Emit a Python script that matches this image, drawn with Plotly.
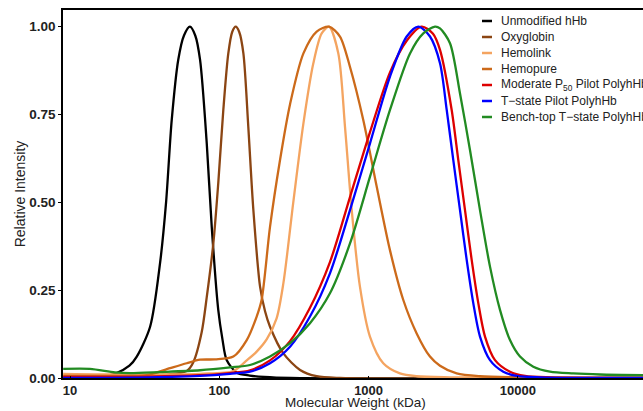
import plotly.graph_objects as go

# ---------------- data ----------------
series_names = [
    "Unmodified hHb",
    "Oxyglobin",
    "Hemolink",
    "Hemopure",
    "Moderate P<sub>50</sub> Pilot PolyhHb",
    "T\u2212state Pilot PolyhHb",
    "Bench-top T\u2212state PolyhHb",
]
series_colors = ["#000000", "#8B4513", "#F4A460", "#CC6A1A", "#DD0000", "#0000FF", "#228B22"]

unmod_mw = [9, 15, 20, 25, 28, 34.4, 40.1, 44, 48, 53.1, 58, 63.6, 69, 74.3, 82.4, 89, 98.4, 105, 112, 131, 160, 200, 300, 70000]
unmod_i = [0.002, 0.002, 0.012, 0.035, 0.061, 0.146, 0.327, 0.5, 0.734, 0.906, 0.975, 1.0, 0.975, 0.906, 0.668, 0.43, 0.194, 0.11, 0.051, 0.015, 0.007, 0.003, 0.0, 0.0]

oxy_mw = [9, 25.2, 40.1, 60.5, 67, 76.2, 82.4, 91.2, 98.4, 106.4, 114.9, 122, 128.8, 136, 145, 156.4, 169, 187.5, 202.5, 218.6, 268.7, 347.5, 449, 643, 70000]
oxy_i = [0.003, 0.004, 0.008, 0.02, 0.045, 0.13, 0.23, 0.383, 0.554, 0.763, 0.924, 0.985, 1.0, 0.985, 0.924, 0.715, 0.48, 0.26, 0.19, 0.146, 0.07, 0.023, 0.005, 0.0, 0.0]

hemolink_mw = [9, 25.2, 74.3, 124.2, 152.7, 178, 207.6, 242, 268.7, 313, 366, 426.5, 485, 543, 627, 695, 771, 875, 1021, 1254, 1622, 2099, 3508, 70000]
hemolink_i = [0.012, 0.01, 0.012, 0.02, 0.05, 0.075, 0.11, 0.17, 0.27, 0.5, 0.725, 0.896, 0.981, 1.0, 0.924, 0.715, 0.478, 0.26, 0.118, 0.042, 0.013, 0.005, 0.002, 0.0]

hemopure_mw = [9, 25.2, 32.7, 46.8, 60.5, 74.3, 93.5, 124.2, 152.7, 178, 192, 218.6, 255, 298, 366, 449, 543, 643, 750, 922, 1133, 1390, 1708, 2099, 2577, 3008, 3890, 5572, 10330, 70000]
hemopure_i = [0.006, 0.006, 0.008, 0.028, 0.042, 0.052, 0.053, 0.061, 0.108, 0.175, 0.222, 0.43, 0.62, 0.78, 0.924, 0.986, 1.0, 0.972, 0.886, 0.734, 0.545, 0.364, 0.222, 0.127, 0.061, 0.035, 0.013, 0.005, 0.002, 0.0]

modp50_mw = [9, 34.4, 74.3, 118, 160.6, 218.6, 297.6, 405, 551, 750.6, 1022, 1391, 1800, 2268, 2700, 3008, 3602, 3989, 4423, 4903, 5430, 6021, 7026, 8853, 11160, 16406, 70000]
modp50_i = [0.003, 0.004, 0.008, 0.014, 0.022, 0.05, 0.105, 0.2, 0.33, 0.515, 0.70, 0.87, 0.96, 1.0, 0.98, 0.934, 0.763, 0.62, 0.478, 0.336, 0.213, 0.118, 0.051, 0.018, 0.006, 0.002, 0.0]

tstate_mw = [9, 34.4, 74.3, 118, 160.6, 218.6, 297.6, 405, 551, 750.6, 1022, 1391, 1800, 2152, 2578, 3008, 3336, 3693, 4095, 4540, 5026, 5574, 6504, 7985, 9817, 14060, 70000]
tstate_i = [0.0, 0.002, 0.006, 0.012, 0.018, 0.042, 0.089, 0.175, 0.298, 0.478, 0.668, 0.858, 0.972, 1.0, 0.972, 0.896, 0.763, 0.62, 0.478, 0.336, 0.213, 0.118, 0.051, 0.018, 0.006, 0.002, 0.0]

bench_mw = [9, 13.6, 20, 25.2, 40.1, 74.3, 118, 160.6, 218.6, 297.6, 405, 551, 750.6, 1022, 1391, 1894, 2325, 2785, 3008, 3509, 4095, 4776, 5574, 6504, 7589, 8853, 10330, 12684, 16406, 23500, 35470, 70000]
bench_i = [0.026, 0.026, 0.016, 0.014, 0.017, 0.022, 0.03, 0.037, 0.061, 0.099, 0.156, 0.241, 0.383, 0.573, 0.763, 0.924, 0.981, 1.0, 0.995, 0.953, 0.81, 0.649, 0.478, 0.317, 0.194, 0.108, 0.061, 0.032, 0.018, 0.013, 0.01, 0.008]

x_tick_vals = [10, 100, 1000, 10000]
x_tick_text = ["10", "100", "1000", "10000"]
y_tick_vals = [0, 0.25, 0.5, 0.75, 1.0]
y_tick_text = ["0.00", "0.25", "0.50", "0.75", "1.00"]

series_x = [unmod_mw, oxy_mw, hemolink_mw, hemopure_mw, modp50_mw, tstate_mw, bench_mw]
series_y = [unmod_i, oxy_i, hemolink_i, hemopure_i, modp50_i, tstate_i, bench_i]

# ---------------- figure ----------------
W, H = 643, 411
ML, MR, MT, MB = 63, 0, 10, 33
PW, PH = W - ML - MR, H - MT - MB

fig = go.Figure()
for name, col, xs, ys in zip(series_names, series_colors, series_x, series_y):
    fig.add_trace(go.Scatter(
        x=xs, y=ys, mode="lines", name=name, showlegend=False,
        line=dict(color=col, width=2.3, shape="spline", smoothing=0.8),
    ))

# manual legend (compact rows like the reference)
def px2paper(px, py):
    return (px - ML) / PW, (H - MB - py) / PH

shapes = []
annotations = []
for k, (name, col) in enumerate(zip(series_names, series_colors)):
    py = 21 + 16 * k
    x0, y0 = px2paper(482, py)
    x1, _ = px2paper(492, py)
    shapes.append(dict(type="line", xref="paper", yref="paper", x0=x0, x1=x1, y0=y0, y1=y0,
                       line=dict(color=col, width=2.5)))
    tx, _ = px2paper(499, py)
    annotations.append(dict(xref="paper", yref="paper", x=tx, y=y0, xanchor="left", yanchor="middle",
                            text=name, showarrow=False,
                            font=dict(family="Liberation Sans, Arial", size=12, color="#222222")))

# x-axis title placed like the reference
tx_title, ty_title = px2paper(355, 403)
annotations.append(dict(xref="paper", yref="paper", x=tx_title, y=ty_title, xanchor="center", yanchor="middle",
                        text="Molecular Weight (kDa)", showarrow=False,
                        font=dict(family="Liberation Sans, Arial", size=13.5, color="#222222")))

axis_font = dict(family="Liberation Sans, Arial", size=13, color="#222222", weight="bold")
title_font = dict(family="Liberation Sans, Arial", size=14, color="#222222")

fig.update_layout(
    width=W, height=H,
    margin=dict(l=ML, r=MR, t=MT, b=MB, autoexpand=False),
    paper_bgcolor="white", plot_bgcolor="white",
    shapes=shapes, annotations=annotations,
    xaxis=dict(
        type="log", range=[0.9531, 4.838],
        tickvals=x_tick_vals, ticktext=x_tick_text,
        showline=True, linecolor="black", linewidth=1.6, mirror=True,
        ticks="inside", ticklen=2, tickcolor="black", tickwidth=1,
        showgrid=False, zeroline=False, tickfont=axis_font,
    ),
    yaxis=dict(
        range=[0, 1.0475],
        tickvals=y_tick_vals, ticktext=y_tick_text,
        showline=True, linecolor="black", linewidth=1.6,
        ticks="outside", ticklen=3, tickcolor="black", tickwidth=1,
        showgrid=False, zeroline=False, tickfont=dict(axis_font, size=13.5),
        title=dict(text="Relative Intensity", font=title_font, standoff=0),
    ),
)

fig.write_html("out.html")
